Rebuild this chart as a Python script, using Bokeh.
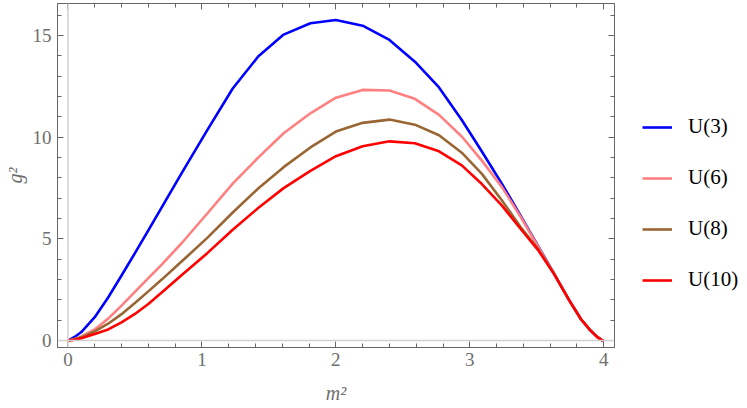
from bokeh.plotting import figure
from bokeh.layouts import row
from bokeh.models import (Range1d, FixedTicker, LinearAxis, Legend, LegendItem, Span,
                          CustomJSTickFormatter)
from bokeh.embed import file_html
from bokeh.resources import INLINE

# ---- data ----
m2 = [0, 0.05, 0.1, 0.2, 0.3, 0.4, 0.5, 0.6, 0.7, 0.85, 1.04, 1.23, 1.42, 1.61, 1.81, 2.0,
      2.2, 2.4, 2.59, 2.77, 2.94, 3.09, 3.24, 3.38, 3.51, 3.63, 3.74, 3.83, 3.9, 3.95, 3.985, 4.0]
g2_U3 = [0, 0.18, 0.42, 1.15, 2.12, 3.2, 4.3, 5.42, 6.55, 8.25, 10.35, 12.4, 13.97, 15.05,
         15.61, 15.77, 15.49, 14.79, 13.72, 12.45, 10.85, 9.3, 7.71, 6.13, 4.65, 3.28,
         2.0, 1.05, 0.5, 0.18, 0.02, 0]
g2_U6 = [0, 0.08, 0.2, 0.55, 1.08, 1.72, 2.4, 3.07, 3.74, 4.8, 6.25, 7.72, 9.0, 10.2,
         11.18, 11.95, 12.33, 12.30, 11.89, 11.1, 10.04, 8.85, 7.55, 6.08, 4.62, 3.28,
         2.0, 1.05, 0.5, 0.18, 0.02, 0]
g2_U8 = [0, 0.06, 0.16, 0.45, 0.83, 1.3, 1.85, 2.42, 3.0, 3.9, 5.05, 6.3, 7.48, 8.53,
         9.5, 10.28, 10.71, 10.87, 10.62, 10.1, 9.24, 8.2, 6.89, 5.57, 4.5, 3.28,
         2.0, 1.05, 0.5, 0.18, 0.02, 0]
g2_U10 = [0, 0.04, 0.12, 0.32, 0.55, 0.9, 1.31, 1.8, 2.37, 3.23, 4.3, 5.45, 6.52, 7.5,
          8.35, 9.07, 9.56, 9.80, 9.71, 9.31, 8.62, 7.7, 6.64, 5.49, 4.45, 3.26,
          2.0, 1.05, 0.5, 0.18, 0.02, 0]

series = [g2_U3, g2_U6, g2_U8, g2_U10]
series_labels = ["U(3)", "U(6)", "U(8)", "U(10)"]
series_colors = ["#0000ff", "#ff8080", "#996633", "#ff0000"]

x_major = [0, 1, 2, 3, 4]
x_minor = [round(0.2 * i, 1) for i in range(-1, 21)]
y_major = [0, 5, 10, 15]
y_minor = list(range(-1, 18))

FONT = "Liberation Serif"
FRAME = "#666666"
LABEL = "#6e6e6e"

p = figure(width=620, height=408, output_backend="svg", toolbar_location=None,
           x_range=Range1d(-0.078, 4.08), y_range=Range1d(-0.34, 16.58),
           min_border_left=57, min_border_right=6, min_border_top=3, min_border_bottom=61)
p.xgrid.visible = False
p.ygrid.visible = False
p.outline_line_color = FRAME
p.background_fill_color = "white"
p.border_fill_color = "white"

# Mathematica-style axes through origin
p.add_layout(Span(location=0, dimension="width", line_color="#d0d0d0", line_width=1.5))
p.add_layout(Span(location=0, dimension="height", line_color="#d0d0d0", line_width=1.5))

def style_axis(ax, ticks, minor):
    ax.ticker = FixedTicker(ticks=ticks, minor_ticks=minor)
    ax.axis_line_color = FRAME
    ax.major_tick_line_color = FRAME
    ax.minor_tick_line_color = FRAME
    ax.major_tick_in = 6
    ax.major_tick_out = 0
    ax.minor_tick_in = 4
    ax.minor_tick_out = 0
    ax.major_label_text_font = FONT
    ax.major_label_text_font_size = "19px"
    ax.major_label_text_color = LABEL

xax = p.below[0]
yax = p.left[0]
style_axis(xax, x_major, x_minor)
style_axis(yax, y_major, y_minor)
xax.major_label_standoff = 5
yax.major_label_standoff = 6

xax.axis_label = "m²"
yax.axis_label = "g²"
for ax in (xax, yax):
    ax.axis_label_text_font = FONT
    ax.axis_label_text_font_style = "italic"
    ax.axis_label_text_font_size = "20px"
    ax.axis_label_text_color = LABEL
xax.axis_label_standoff = 13
yax.axis_label_standoff = 4

top_ax = LinearAxis(formatter=CustomJSTickFormatter(code="return ''"))
style_axis(top_ax, x_major, x_minor)
top_ax.major_label_standoff = 0
p.add_layout(top_ax, "above")
right_ax = LinearAxis(formatter=CustomJSTickFormatter(code="return ''"))
style_axis(right_ax, y_major, y_minor)
right_ax.major_label_standoff = 0
p.add_layout(right_ax, "right")

for ys, col in zip(series, series_colors):
    p.line(m2, ys, line_color=col, line_width=2.6)

# legend panel to the right of the plot frame
lg = figure(width=127, height=408, output_backend="svg", toolbar_location=None,
            x_range=Range1d(-0.078, 4.08), y_range=Range1d(-0.34, 16.58),
            x_axis_location=None, y_axis_location=None,
            min_border_left=0, min_border_right=0, min_border_top=0, min_border_bottom=0)
lg.xgrid.visible = False
lg.ygrid.visible = False
lg.outline_line_color = None
lg.background_fill_color = "white"
lg.border_fill_color = "white"

items = []
for ys, lab, col in zip(series, series_labels, series_colors):
    r = lg.line(m2, ys, line_color=col, line_width=2.6, visible=False)
    items.append(LegendItem(label=lab, renderers=[r]))

legend = Legend(items=items, location=(22, 55), orientation="vertical",
                glyph_width=30, glyph_height=24, label_height=24, spacing=26,
                label_standoff=16, padding=0, margin=0,
                label_text_font=FONT, label_text_font_size="21px", label_text_color="black",
                border_line_color=None, background_fill_alpha=0)
lg.add_layout(legend, "center")

layout = row(p, lg, spacing=0)
open("out.html", "w").write(file_html(layout, INLINE))
